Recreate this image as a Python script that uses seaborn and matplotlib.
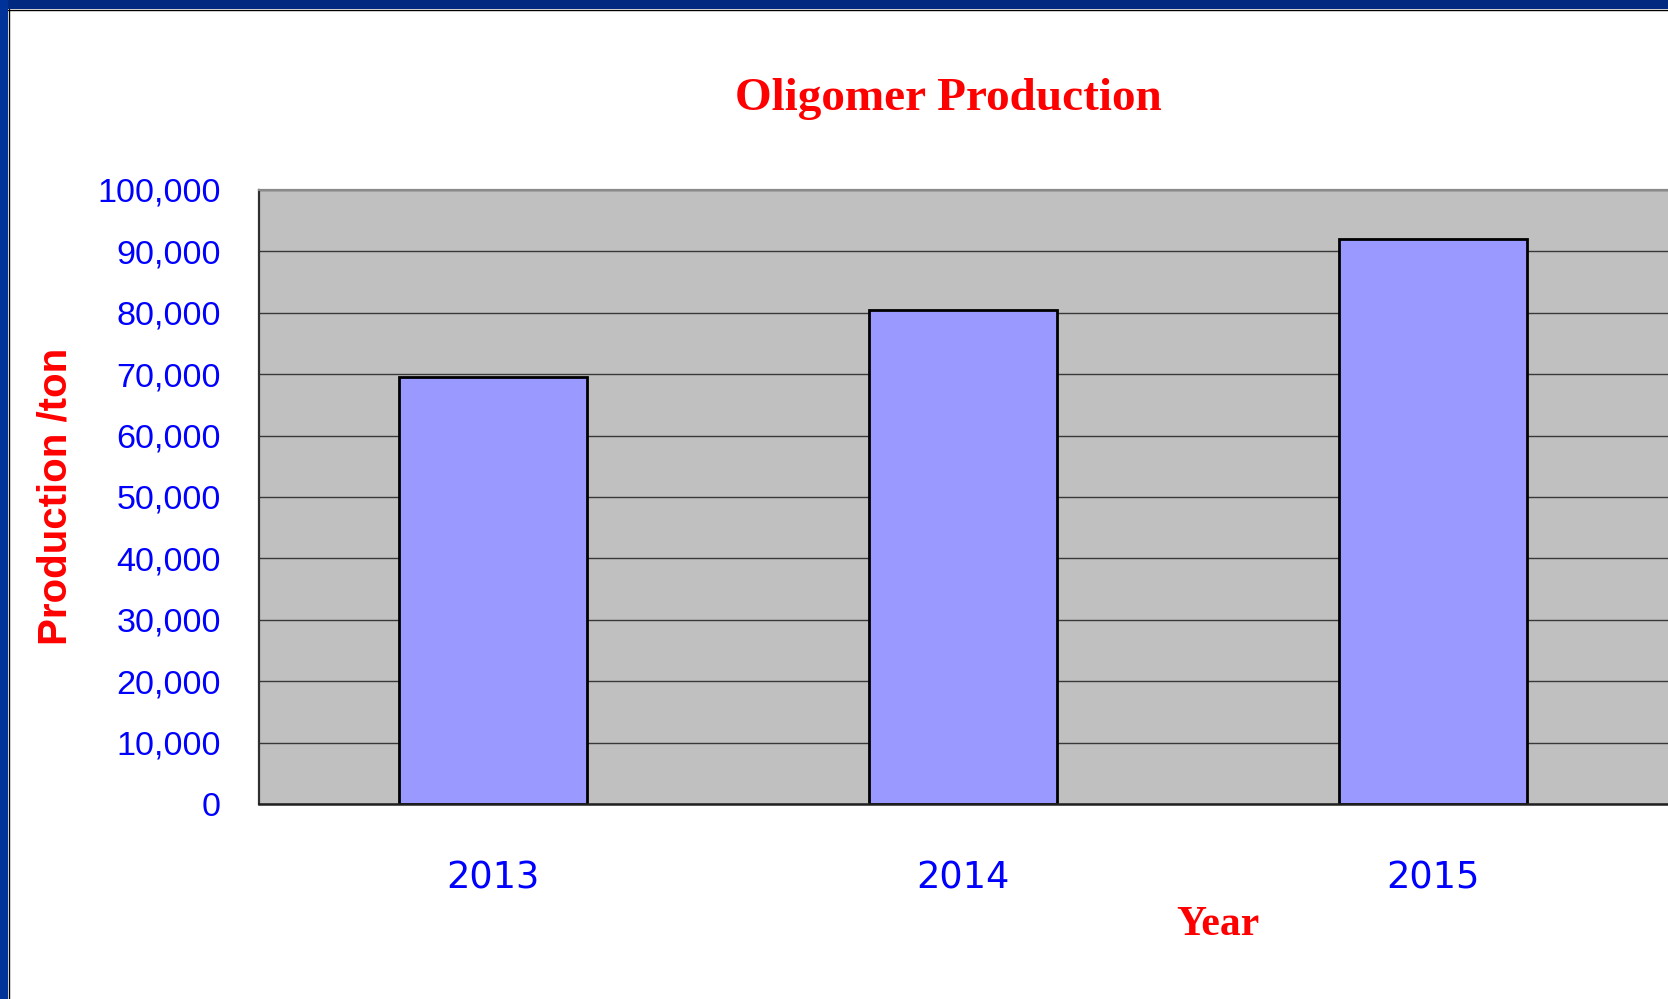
import matplotlib
matplotlib.use("Agg")
import matplotlib.pyplot as plt
import seaborn as sns
import pandas as pd
from matplotlib.patches import Rectangle
from matplotlib.lines import Line2D
from matplotlib.ticker import FuncFormatter, FixedLocator

# ---- data ----
years = ["2013", "2014", "2015"]
production = [69500, 80500, 92000]
y_ticks = list(range(0, 100001, 10000))

title = "Oligomer Production"
x_label = "Year"
y_label = "Production /ton"

sns.set_theme(style="white")
plt.rcParams['font.family'] = ['Liberation Sans', 'DejaVu Sans']

W, H = 1668, 999
fig = plt.figure(figsize=(W / 100, H / 100), dpi=100)
fig.patch.set_facecolor("white")

ax_left, ax_right, ax_top, ax_bottom = 258.5, 1667.5, 190.0, 804.0
ax = fig.add_axes([ax_left / W, 1 - ax_bottom / H,
                   (ax_right - ax_left) / W, (ax_bottom - ax_top) / H])
ax.set_facecolor("#C0C0C0")

df = pd.DataFrame({"Year": years, "Production": production})
sns.barplot(data=df, x="Year", y="Production", color="#9999FF",
            saturation=1, edgecolor="black", linewidth=2.0, width=0.4, ax=ax)

ax.set_xlim(-0.5, len(years) - 0.5)
ax.set_ylim(0, 100000)
ax.set_yticks(y_ticks)
ax.yaxis.set_major_formatter(FuncFormatter(lambda v, p: f"{int(v):,}"))
ax.yaxis.grid(True, color="#383838", linewidth=1.0)
ax.xaxis.grid(False)
ax.set_axisbelow(True)

# tick labels
ax.tick_params(axis="y", length=0, pad=27, labelsize=24.6, labelcolor="#0000FF")
ax.tick_params(axis="x", which="major", length=0, pad=40, labelsize=26.5,
               labelcolor="#0000FF")
for lab in ax.get_xticklabels():
    lab.set_family("DejaVu Sans")
ax.xaxis.set_minor_locator(FixedLocator([0.5, 1.5]))
ax.tick_params(axis="x", which="minor", direction="in", length=9,
               width=1.0, color="#404040")

# spines
for side in ["top", "left", "bottom", "right"]:
    ax.spines[side].set_visible(True)
ax.spines["top"].set_color("#8a8a8a")
ax.spines["top"].set_linewidth(1.6)
ax.spines["left"].set_color("#303030")
ax.spines["left"].set_linewidth(1.6)
ax.spines["bottom"].set_color("#202020")
ax.spines["bottom"].set_linewidth(1.8)
ax.spines["right"].set_visible(False)

# labels
span_x = ax_right - ax_left
span_y = ax_bottom - ax_top
ax.set_title(title, x=(948 - ax_left) / span_x, y=(ax_bottom - 107) / span_y,
             va="center", ha="center", fontsize=34, fontweight="bold",
             color="#FF0000", family="Liberation Serif")

ax.set_xlabel(x_label, fontsize=30, fontweight="bold", color="#FF0000",
              family="Liberation Serif")
ax.xaxis.set_label_coords((1218 - ax_left) / span_x, (ax_bottom - 925) / span_y)
ax.xaxis.label.set_va("center")

ax.set_ylabel(y_label, fontsize=29, fontweight="bold", color="#FF0000",
              family="Liberation Sans")
ax.yaxis.label.set_rotation_mode("default")
ax.yaxis.label.set_va("center")
ax.yaxis.label.set_ha("center")
ax.yaxis.set_label_coords((56 - ax_left) / span_x, (ax_bottom - 496) / span_y)

# slide border (top and left)
fig.patches.append(Rectangle((0, 1 - 9 / H), 1, 9 / H, transform=fig.transFigure,
                             facecolor="#00297F", edgecolor="none", zorder=10))
fig.patches.append(Rectangle((0, 0), 8 / W, 1, transform=fig.transFigure,
                             facecolor="#003399", edgecolor="none", zorder=10))
fig.lines.append(Line2D([8 / W, 1], [1 - 9.6 / H, 1 - 9.6 / H],
                        transform=fig.transFigure, color="black", linewidth=1.0,
                        zorder=11))
fig.lines.append(Line2D([8.6 / W, 8.6 / W], [0, 1 - 9 / H],
                        transform=fig.transFigure, color="black", linewidth=1.0,
                        zorder=11))

fig.savefig("out.png", dpi=100)
